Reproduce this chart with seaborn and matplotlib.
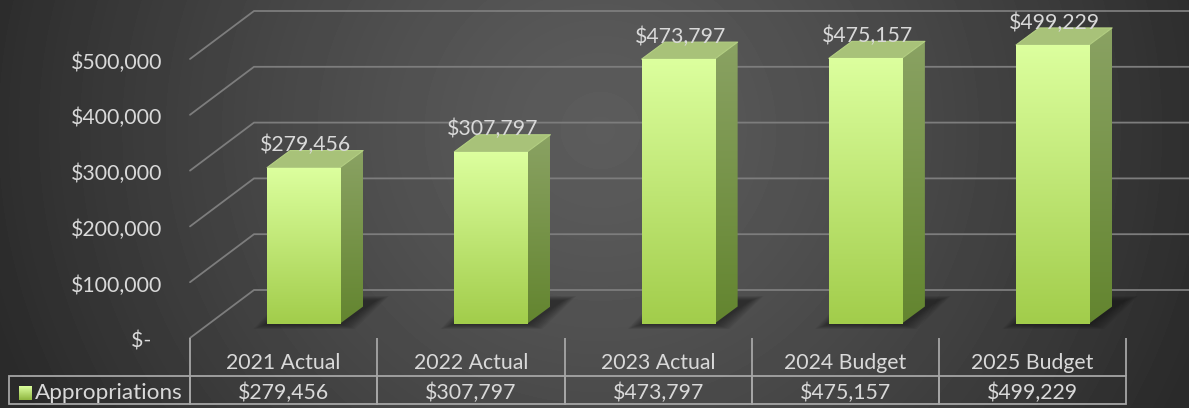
import numpy as np
import pandas as pd
import seaborn as sns
import matplotlib
matplotlib.use("Agg")
import matplotlib.pyplot as plt
from matplotlib.colors import LinearSegmentedColormap
from matplotlib.patches import Polygon
from matplotlib.transforms import Affine2D, IdentityTransform

categories = ["2021 Actual", "2022 Actual", "2023 Actual", "2024 Budget", "2025 Budget"]
values = [279456, 307797, 473797, 475157, 499229]
value_labels = ["$279,456", "$307,797", "$473,797", "$475,157", "$499,229"]
series_name = "Appropriations"
y_ticks = [0, 100000, 200000, 300000, 400000, 500000]
y_labels = ["$-  ", "$100,000", "$200,000", "$300,000", "$400,000", "$500,000"]

W, H = 1189, 408
sns.set_theme(style="dark")
plt.rcParams["font.family"] = ["Lato", "DejaVu Sans"]
TXT = "#d9d9d9"
GRID = "#7d7d7d"
FS = 15.3

fig = plt.figure(figsize=(W / 100, H / 100), dpi=100)

# background gradient
bg = fig.add_axes([0, 0, 1, 1], zorder=-1)
yy, xx = np.mgrid[0:H, 0:W]
r = np.clip(np.sqrt(((xx - 600) / 640) ** 2 + ((yy - 130) / 620) ** 2), 0, 1)
bg.imshow(0x5c + (0x2a - 0x5c) * r ** 1.3, cmap="gray", vmin=0, vmax=255, aspect="auto")
bg.axis("off")

L, R, T, B = 190, 1126.25, 59, 338
ax = fig.add_axes([L / W, 1 - B / H, (R - L) / W, (B - T) / H], zorder=1)
ax.patch.set_visible(False)

df = pd.DataFrame({"label": categories, "value": values})
sns.barplot(data=df, x="label", y="value", color="#b8dc6a", width=0.39, saturation=1, ax=ax)
ax.set_xlim(-0.5, 4.5)
ax.set_ylim(0, 500000)
ax.set_xlabel("")
ax.set_ylabel("")
ax.grid(False)
for s in ax.spines.values():
    s.set_visible(False)
ax.set_yticks(y_ticks, y_labels)
ax.tick_params(axis="y", length=0, pad=20, labelsize=FS, labelcolor=TXT)
for lab in ax.get_yticklabels():
    lab.set_transform(lab.get_transform() + Affine2D().translate(0, -1.5))
ax.set_xticks(range(5), categories)
ax.tick_params(axis="x", which="major", length=0, pad=11, labelsize=FS, labelcolor=TXT)
ax.set_xticks(np.arange(-0.5, 5), minor=True)
ax.tick_params(axis="x", which="minor", bottom=True, length=38 * 0.72, width=1.3, color="#a6a6a6")

fig.canvas.draw()
DX, DY = 20, 14.5          # bars sit inside the floor depth
DEPX, DEPY = 23, 17        # bar 3-D depth
bar_shift = ax.transData + Affine2D().translate(DX, DY)
pix = IdentityTransform()


def gradient(extent, top, bottom, transform, zorder, clip=None):
    cmap = LinearSegmentedColormap.from_list("g", [top, bottom])
    im = ax.imshow(np.linspace(0, 1, 128)[:, None], cmap=cmap, aspect="auto", extent=extent,
                   zorder=zorder, interpolation="bilinear")
    im.set_transform(transform)
    im.set_clip_box(fig.bbox)
    if clip is not None:
        im.set_clip_path(clip)
    return im


# gridlines: wall diagonal + back wall
for v in y_ticks:
    x0, y0 = ax.transData.transform((-0.5, v))
    ax.plot([x0, x0 + 64, W], [y0, y0 + 48, y0 + 48], color=GRID, lw=1.3, transform=pix,
            clip_on=False, zorder=0.5, solid_joinstyle="miter")

for i, p in enumerate(list(ax.patches)):
    x, w, h = p.get_x(), p.get_width(), p.get_height()
    (xl, yb), (xr, yt) = bar_shift.transform([(x, 0), (x + w, h)])
    z = 3 + i * 0.1
    # soft shadow on the floor
    for k in range(9):
        g = (8 - k) * 1.6
        ax.add_patch(Polygon([(xl - 1 - g, yb - 1 - g * 0.35), (xr + 2 + g, yb - 1 - g * 0.35),
                              (xr + 36 + g, yb + 23 + g * 0.35), (xl + 30 - g, yb + 23 + g * 0.35)],
                             closed=True, transform=pix, fc="#111111", ec="none", alpha=0.07,
                             clip_on=False, zorder=1))
    # side face
    side = Polygon([(xr, yb), (xr + DEPX, yb + DEPY), (xr + DEPX, yt + DEPY), (xr, yt)],
                   closed=True, transform=pix, fc="none", ec="none", clip_on=False)
    ax.add_patch(side)
    gradient((xr, xr + DEPX, yb, yt + DEPY), "#8aa263", "#63852f", pix, z, clip=side)
    # top face
    ax.add_patch(Polygon([(xl, yt), (xr, yt), (xr + DEPX, yt + DEPY), (xl + DEPX, yt + DEPY)],
                         closed=True, transform=pix, fc="#a8c279", ec="#b4d083", lw=0.8,
                         joinstyle="round", clip_on=False, zorder=z))
    # front face
    p.set_transform(bar_shift)
    p.set_clip_on(False)
    p.set_zorder(z)
    p.set_edgecolor("none")
    gradient((x, x + w, 0, h), "#dcff9e", "#a2cd4b", bar_shift, z + 0.01)
    # data label
    ax.text((xl + xr) / 2 + 2, yt + 22.5, value_labels[i], transform=pix, ha="center",
            va="center", color=TXT, fontsize=FS, zorder=6, clip_on=False)

# data table row (the bbox sets the value cells; the row label cell sits to their left)
tb = ax.table(cellText=[value_labels], cellLoc="center", colWidths=[0.2] * 5,
              bbox=[0, (B - 404) / (B - T), 1, 28.5 / (B - T)])
tb.auto_set_font_size(False)
tb.set_fontsize(FS)
tb.add_cell(0, -1, width=(L - 9) / (R - L), height=tb[(0, 0)].get_height(), text=series_name, loc="right")
for (row, col), c in tb.get_celld().items():
    c.PAD = 0.04
    c.set_facecolor("none")
    c.set_edgecolor("#a6a6a6")
    c.set_linewidth(1.3)
    t = c.get_text()
    t.set_color(TXT)
    t.set_fontsize(16.2 if col == -1 else FS)
    t.set_transform(Affine2D().translate(0, -3))
    c.set_clip_on(False)

# legend key inside the table row
kx, ky = ax.transData.inverted().transform((18.5, H - 400))
kx2, ky2 = ax.transData.inverted().transform((31, H - 386))
key = gradient((kx, kx2, ky, ky2), "#dcff9e", "#8fb640", ax.transData, 7)

ax.set_xlim(-0.5, 4.5)
ax.set_ylim(0, 500000)
fig.savefig("out.png", dpi=100)
